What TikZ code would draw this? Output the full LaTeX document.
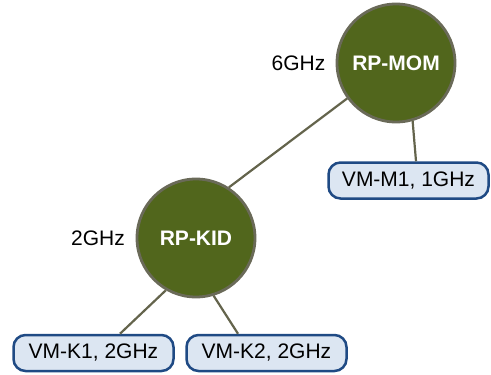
\documentclass[tikz,border=0pt]{standalone}
\usepackage{fontspec}
\setmainfont{Liberation Sans}
\definecolor{olivefill}{HTML}{51661C}
\definecolor{olivedraw}{HTML}{6A6A58}
\definecolor{edgecol}{HTML}{64644C}
\definecolor{boxfill}{HTML}{DCE6F2}
\definecolor{boxdraw}{HTML}{1F4A84}
\tikzset{
  rp/.style={circle, fill=olivefill, draw=olivedraw, line width=2.8pt, minimum size=118pt, inner sep=0pt, text=white, font=\fontsize{21}{25}\selectfont\bfseries},
  vm/.style={rectangle, rounded corners=12pt, fill=boxfill, draw=boxdraw, line width=2.5pt, minimum width=160pt, minimum height=36pt, inner sep=0pt, font=\fontsize{21}{25}\selectfont},
  lbl/.style={font=\fontsize{21}{25}\selectfont, inner sep=0pt},
  edge/.style={draw=edgecol, line width=2.2pt}
}
\begin{document}
\begin{tikzpicture}[x=1pt, y=-1pt]
\useasboundingbox (0,0) rectangle (491,375);
\node[rp] (mom) at (396,63) {RP-MOM};
\node[rp] (kid) at (196,238) {RP-KID};
\node[lbl] (l6) at (298.5,63) {6GHz};
\node[lbl] (l2) at (98,238) {2GHz};
\node[vm] (m1) at (408.5,180.5) {VM-M1, 1GHz};
\node[vm] (k1) at (93.5,353) {VM-K1, 2GHz};
\node[vm] (k2) at (266.5,353) {VM-K2, 2GHz};
\draw[edge] (mom.216) -- (kid.57);
\draw[edge] (mom.-74) -- ([xshift=7.5pt]m1.north);
\draw[edge] (kid.-120) -- ([xshift=26.5pt]k1.north);
\draw[edge] (kid.-73) -- ([xshift=-28.5pt]k2.north);
\end{tikzpicture}
\end{document}
